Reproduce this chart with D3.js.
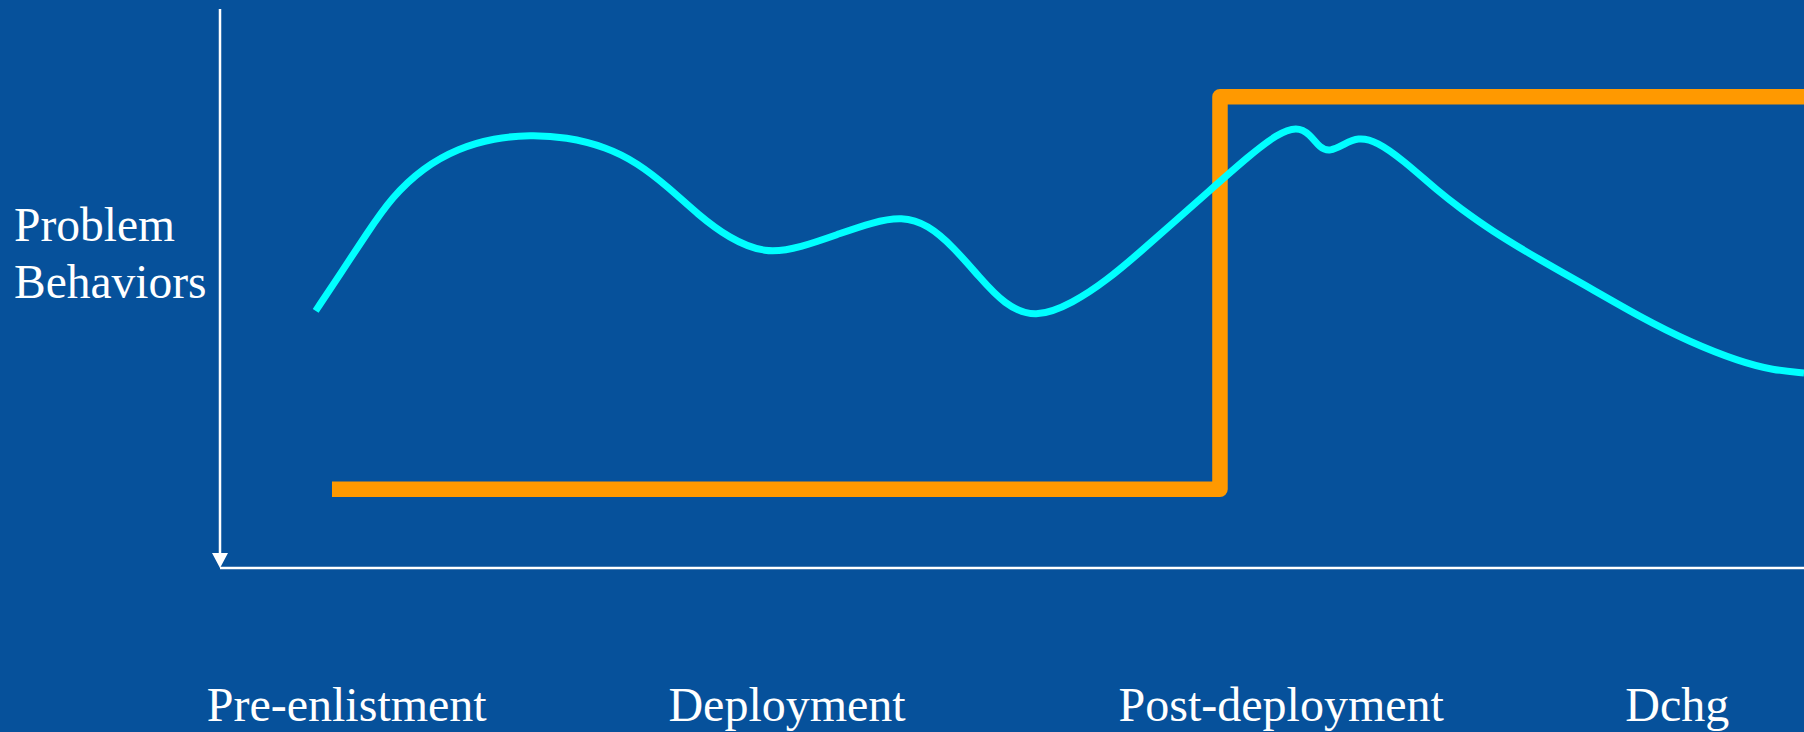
<!DOCTYPE html>
<html>
<head>
<meta charset="utf-8">
<script src="https://cdn.jsdelivr.net/npm/d3@7"></script>
<style>
  html, body { margin: 0; padding: 0; background: #06519b; overflow: hidden; }
  svg { display: block; }
</style>
</head>
<body>
<svg id="chart" width="1804" height="732"></svg>
<script>
// ---- Data ----
const periodLabels = ["Pre-enlistment", "Deployment", "Post-deployment", "Dchg"];
const periodCenters = [8.0, 35.8, 67.0, 92.0];

const yLabelLines = ["Problem", "Behaviors"];

// Cyan curve: problem behaviors over time (time 0-100, level 0-100)
const behaviorTime = [6.04, 7.64, 9.28, 10.86, 12.82, 15.06, 17.30, 19.57, 21.84, 24.40,
  26.33, 28.28, 30.18, 32.13, 34.41, 36.62, 39.20, 41.16, 43.06, 44.70,
  46.31, 47.92, 49.53, 51.45, 53.85, 56.00, 58.08, 60.16, 62.31, 65.03,
  66.73, 67.99, 68.81, 69.44, 70.08, 70.90, 71.84, 73.04, 74.68, 77.02,
  78.28, 80.18, 83.33, 86.49, 89.65, 92.80, 95.96, 98.04, 100];
const behaviorLevel = [46.0, 52.8, 59.9, 66.4, 71.6, 75.1, 76.9, 77.5, 77.1, 75.3,
  72.5, 68.2, 63.2, 59.0, 56.2, 57.3, 59.9, 61.8, 62.9, 61.4,
  57.4, 52.1, 47.1, 44.6, 47.4, 51.5, 56.5, 61.7, 67.1, 73.9,
  77.6, 79.0, 77.6, 75.1, 74.5, 75.7, 77.1, 76.3, 73.0, 67.1,
  64.4, 60.5, 55.1, 50.1, 44.9, 40.4, 36.9, 35.4, 34.9];

// Orange step line
const stepTime = [7.07, 63.13, 100];
const stepLevel = [14.1, 84.3, 84.3];

// ---- Drawing ----
const svg = d3.select("#chart");
const W = 1804, H = 732;
const plotLeft = 220, plotRight = 1804, plotTop = 9, plotBottom = 568;

const x = d3.scaleLinear().domain([0, 100]).range([plotLeft, plotRight]);
const y = d3.scaleLinear().domain([0, 100]).range([plotBottom, plotTop]);

svg.append("rect").attr("width", W).attr("height", H).attr("fill", "#06519b");

// Axes
svg.append("line")
  .attr("x1", x(0)).attr("x2", x(0))
  .attr("y1", y(100)).attr("y2", y(0) - 12)
  .attr("stroke", "#ffffff").attr("stroke-width", 2.5);
svg.append("path")
  .attr("d", d3.line()([[x(0) - 8, y(0) - 15], [x(0) + 8, y(0) - 15], [x(0), y(0)]]) + "Z")
  .attr("fill", "#ffffff");
svg.append("line")
  .attr("x1", x(0)).attr("x2", x(100))
  .attr("y1", y(0)).attr("y2", y(0))
  .attr("stroke", "#ffffff").attr("stroke-width", 2.5);

// Orange step line
const stepData = stepTime.map((t, i) => [t, stepLevel[i]]);
svg.append("path")
  .datum(stepData)
  .attr("d", d3.line().x(d => x(d[0])).y(d => y(d[1])).curve(d3.curveStepAfter))
  .attr("fill", "none")
  .attr("stroke", "#ff9900")
  .attr("stroke-width", 15.5)
  .attr("stroke-linejoin", "round")
  .attr("stroke-linecap", "butt");

// Cyan curve
const curveData = behaviorTime.map((t, i) => [t, behaviorLevel[i]]);
svg.append("path")
  .datum(curveData)
  .attr("d", d3.line().x(d => x(d[0])).y(d => y(d[1])).curve(d3.curveBasis))
  .attr("fill", "none")
  .attr("stroke", "#00ffff")
  .attr("stroke-width", 7)
  .attr("stroke-linecap", "butt");

// Y label
svg.append("text")
  .attr("font-family", "'Liberation Serif', 'Times New Roman', serif")
  .attr("font-size", 47.5)
  .attr("fill", "#ffffff")
  .selectAll("tspan")
  .data(yLabelLines)
  .join("tspan")
  .attr("x", 14)
  .attr("y", (d, i) => 241 + i * 57)
  .text(d => d);

// X labels
svg.selectAll("text.period")
  .data(periodLabels)
  .join("text")
  .attr("class", "period")
  .attr("x", (d, i) => x(periodCenters[i]))
  .attr("y", 721)
  .attr("text-anchor", "middle")
  .attr("font-family", "'Liberation Serif', 'Times New Roman', serif")
  .attr("font-size", 48)
  .attr("fill", "#ffffff")
  .text(d => d);
</script>
</body>
</html>
